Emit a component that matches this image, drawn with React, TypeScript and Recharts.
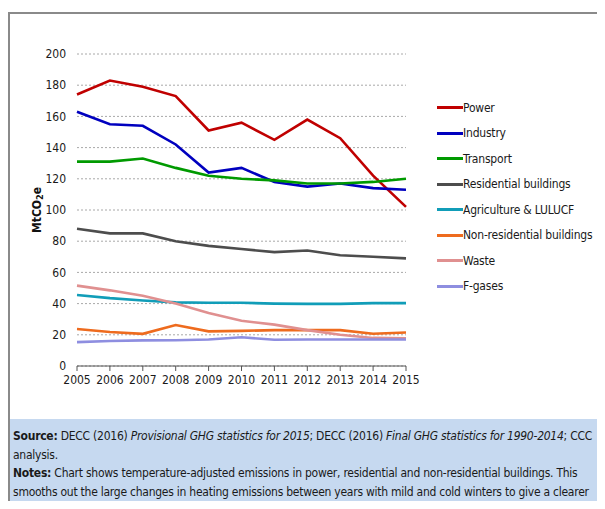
import { LineChart, Line, XAxis, YAxis, CartesianGrid } from 'recharts';

const years = ['2005', '2006', '2007', '2008', '2009', '2010', '2011', '2012', '2013', '2014', '2015'];

const power = [174, 183, 179, 173, 151, 156, 145, 158, 146, 122, 102];
const industry = [163, 155, 154, 142, 124, 127, 118, 115, 117, 114, 113];
const transport = [131, 131, 133, 127, 122, 120, 119, 117, 117, 118, 120];
const residential = [88, 85, 85, 80, 77, 75, 73, 74, 71, 70, 69];
const agriculture = [45.5, 43.5, 42, 40.8, 40.5, 40.5, 40, 39.8, 39.8, 40.3, 40.3];
const nonResidential = [23.7, 21.8, 20.6, 26.3, 22.2, 22.5, 23, 23, 23, 20.7, 21.5];
const waste = [51.5, 48.5, 45, 40, 34, 29, 26.5, 23, 20, 18, 17.8];
const fGases = [15.3, 16, 16.4, 16.5, 17, 18.4, 16.8, 17, 17, 17, 17];

const yTicks = [0, 20, 40, 60, 80, 100, 120, 140, 160, 180, 200];

const series = [
  { key: 'power', name: 'Power', color: '#C00000', values: power },
  { key: 'industry', name: 'Industry', color: '#0000BF', values: industry },
  { key: 'transport', name: 'Transport', color: '#009A00', values: transport },
  { key: 'residential', name: 'Residential buildings', color: '#4D4D4D', values: residential },
  { key: 'agriculture', name: 'Agriculture & LULUCF', color: '#119DB8', values: agriculture },
  { key: 'nonResidential', name: 'Non-residential buildings', color: '#EE6B1E', values: nonResidential },
  { key: 'waste', name: 'Waste', color: '#E09090', values: waste },
  { key: 'fGases', name: 'F-gases', color: '#8E8EE0', values: fGases },
];

const data = years.map((year, i) => {
  const row: Record<string, string | number> = { year };
  series.forEach((s) => {
    row[s.key] = s.values[i];
  });
  return row;
});

const FONT = '"DejaVu Sans Condensed", Roboto, sans-serif';

function LegendList() {
  return (
    <div style={{ fontFamily: FONT, fontSize: 12, color: '#1a1a1a', letterSpacing: -0.2 }}>
      {series.map((s) => (
        <div key={s.key} style={{ display: 'flex', alignItems: 'center', height: 25.5, whiteSpace: 'nowrap' }}>
          <div style={{ width: 26, height: 3, backgroundColor: s.color }} />
          <span>{s.name}</span>
        </div>
      ))}
    </div>
  );
}

function YLabel() {
  return (
    <text
      x={37}
      y={210}
      transform="rotate(-90, 37, 210)"
      textAnchor="middle"
      dominantBaseline="middle"
      fontFamily={FONT}
      fontWeight="bold"
      fontSize={12}
      fill="#111"
    >
      MtCO
      <tspan dy={3} fontSize={9}>2</tspan>
      <tspan dy={-3}>e</tspan>
    </text>
  );
}

export default function App() {
  return (
    <div style={{ position: 'relative', width: 605, height: 509, margin: -8, overflow: 'hidden', background: '#fff' }}>
      {/* frame */}
      <div
        style={{
          position: 'absolute',
          left: 8,
          top: 12,
          width: 620,
          height: 520,
          borderLeft: '2px solid #8a8a8a',
          borderTop: '2px solid #8a8a8a',
        }}
      />

      <div style={{ position: 'absolute', left: 0, top: 0 }}>
        <LineChart width={605} height={420} data={data} margin={{ top: 54, right: 199, bottom: 24, left: 0 }}>
          <CartesianGrid vertical={false} stroke="#a8a8a8" strokeDasharray="2 2" />
          <XAxis
            dataKey="year"
            stroke="#555"
            tickSize={5}
            tickMargin={4}
            height={30}
            tick={{ fill: '#1a1a1a', fontSize: 12, fontFamily: FONT }}
          />
          <YAxis
            domain={[0, 200]}
            ticks={yTicks}
            width={77}
            axisLine={false}
            tickLine={false}
            tickMargin={5}
            tick={{ fill: '#1a1a1a', fontSize: 12, fontFamily: FONT }}
            label={{ content: () => <YLabel /> }}
          />
          {series.map((s) => (
            <Line
              key={s.key}
              type="linear"
              dataKey={s.key}
              name={s.name}
              stroke={s.color}
              strokeWidth={2.6}
              dot={false}
              isAnimationActive={false}
            />
          ))}
        </LineChart>
      </div>

      <div style={{ position: 'absolute', left: 437, top: 95 }}>
        <LegendList />
      </div>

      {/* notes box */}
      <div
        style={{
          position: 'absolute',
          left: 10,
          top: 419,
          width: 600,
          height: 100,
          backgroundColor: '#C6D9F0',
          fontFamily: FONT,
          fontSize: 12,
          letterSpacing: -0.25,
          lineHeight: '18.5px',
          color: '#1a1a1a',
          padding: '8px 0 0 3px',
          boxSizing: 'border-box',
          whiteSpace: 'nowrap',
        }}
      >
        <b>Source:</b> DECC (2016) <i>Provisional GHG statistics for 2015</i>; DECC (2016) <i>Final GHG statistics for 1990-2014</i>; CCC
        <br />
        analysis.
        <br />
        <b>Notes:</b> Chart shows temperature-adjusted emissions in power, residential and non-residential buildings. This
        <br />
        smooths out the large changes in heating emissions between years with mild and cold winters to give a clearer
        <br />
        impression of genuine progress.
      </div>
    </div>
  );
}
